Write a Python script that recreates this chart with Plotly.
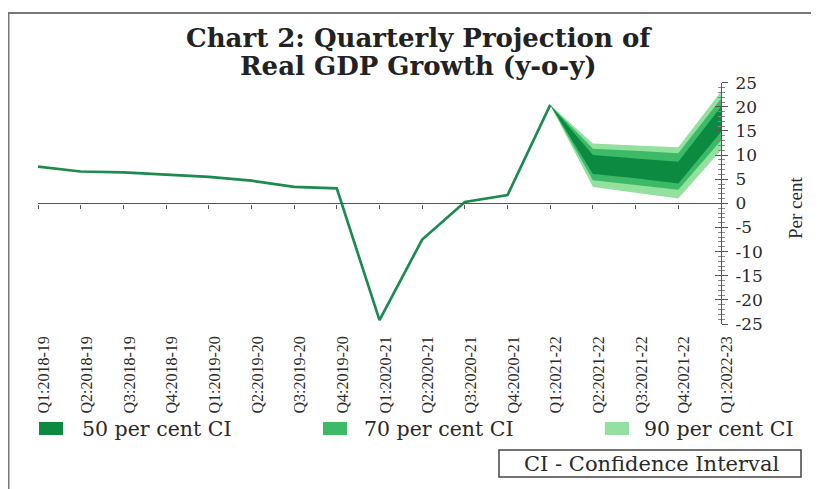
import plotly.graph_objects as go

# ---------------- data ----------------
quarters = ["Q1:2018-19", "Q2:2018-19", "Q3:2018-19", "Q4:2018-19",
            "Q1:2019-20", "Q2:2019-20", "Q3:2019-20", "Q4:2019-20",
            "Q1:2020-21", "Q2:2020-21", "Q3:2020-21", "Q4:2020-21",
            "Q1:2021-22", "Q2:2021-22", "Q3:2021-22", "Q4:2021-22",
            "Q1:2022-23"]
gdp_actual = [7.6, 6.6, 6.4, 6.0, 5.5, 4.7, 3.4, 3.1, -24.2, -7.5, 0.3, 1.7, 20.4]

fan_idx = [12, 13, 14, 15, 16]
upper90 = [20.4, 12.4, 12.0, 11.6, 23.2]
upper70 = [20.4, 11.3, 10.9, 10.4, 21.7]
upper50 = [20.4, 10.0, 9.3, 8.6, 20.0]
lower50 = [20.4, 6.1, 5.2, 4.1, 14.8]
lower70 = [20.4, 4.8, 3.8, 2.8, 13.0]
lower90 = [20.4, 3.4, 2.2, 1.0, 11.0]

y_ticks = [25, 20, 15, 10, 5, 0, -5, -10, -15, -20, -25]
y_tick_labels = ["25", "20", "15", "10", "5", "0", "-5", "-10", "-15", "-20", "-25"]
legend_labels = ["50 per cent CI", "70 per cent CI", "90 per cent CI"]
title_lines = ["Chart 2: Quarterly Projection of", "Real GDP Growth (y-o-y)"]

# ---------------- style ----------------
OFF = 8                      # page body margin offset
W, H = 819 - OFF, 489 - OFF
C50, C70, C90 = "#0c8a42", "#3dba68", "#93e09f"
LINE = "#1d8a50"
SERIF = "DejaVu Serif"
TXT = "#2a2a2a"

def px(x):
    return (x - OFF) / W

def py(y):
    return 1 - (y - OFF) / H

x_dom = [px(38), px(721)]
x_lab_dom = [px(44), px(727)]
y_dom = [py(324), py(82.7)]
yr = [-25, 25]
zero_pos = y_dom[0] + (y_dom[1] - y_dom[0]) * (0 - yr[0]) / (yr[1] - yr[0])

fig = go.Figure()

idx_all = list(range(len(quarters)))

def band(upper, lower, color, name):
    xs = fan_idx + fan_idx[::-1]
    ys = upper + lower[::-1]
    fig.add_trace(go.Scatter(x=xs, y=ys, fill="toself", fillcolor=color,
                             mode="lines", line=dict(width=0, color=color),
                             name=name, showlegend=False, hoverinfo="skip"))

band(upper90, lower90, C90, legend_labels[2])
band(upper70, lower70, C70, legend_labels[1])
band(upper50, lower50, C50, legend_labels[0])

fig.add_trace(go.Scatter(x=idx_all[:len(gdp_actual)], y=gdp_actual, mode="lines",
                         line=dict(color=LINE, width=2.7), showlegend=False))

fig.update_layout(
    width=W, height=H,
    margin=dict(l=0, r=0, t=0, b=0, pad=0, autoexpand=False),
    paper_bgcolor="white", plot_bgcolor="rgba(0,0,0,0)",
    xaxis=dict(domain=x_dom, range=[0, 16], showgrid=False, zeroline=False,
               showline=False, ticks="", showticklabels=False, automargin=False),
    # axis line at zero with tick marks
    xaxis2=dict(range=[0, 16], overlaying="x", anchor="free",
                position=zero_pos, showgrid=False, zeroline=False,
                showline=True, linecolor="#555", linewidth=1.3,
                ticks="outside", ticklen=4, tickcolor="#555", tickwidth=1.3,
                tickvals=idx_all, showticklabels=False, automargin=False),
    yaxis=dict(domain=y_dom, range=yr, side="right", anchor="x",
               showgrid=False, zeroline=False, showline=True,
               linecolor="#555", linewidth=1.3,
               tickmode="array", tickvals=y_ticks, ticktext=y_tick_labels,
               ticks="outside", ticklen=6, tickcolor="#555",
               tickwidth=1.3, ticklabelstandoff=4, automargin=False,
               minor=dict(dtick=1, ticks="outside", ticklen=3, tickcolor="#888",
                          tickwidth=0.8),
               tickfont=dict(family=SERIF, size=17, color=TXT)),
    yaxis2=dict(range=yr, side="right", overlaying="y", anchor="x",
                showgrid=False, zeroline=False, showline=False,
                tickvals=y_ticks, ticks="inside", ticklen=6, tickcolor="#555",
                tickwidth=1.3, showticklabels=False, automargin=False,
                minor=dict(dtick=1, ticks="inside", ticklen=3, tickcolor="#888",
                           tickwidth=0.8)),
    # separate subplot carrying the category labels (slightly offset, as in source)
    xaxis3=dict(domain=x_lab_dom, range=[0, 16], anchor="y3",
                side="bottom", showgrid=False, zeroline=False, showline=False,
                ticks="", tickmode="array", tickvals=idx_all, ticktext=quarters,
                tickangle=-90, ticklabelstandoff=8, automargin=False,
                tickfont=dict(family="Liberation Serif", size=16, color=TXT)),
    yaxis3=dict(domain=y_dom, range=yr, anchor="x3", showgrid=False,
                zeroline=False, showline=False, showticklabels=False, ticks="",
                automargin=False),
)

# dummy traces so the extra axes render
fig.add_trace(go.Scatter(x=[0], y=[0], xaxis="x2", yaxis="y2", mode="markers",
                         marker=dict(opacity=0), showlegend=False, hoverinfo="skip"))
fig.add_trace(go.Scatter(x=[0], y=[0], xaxis="x3", yaxis="y3", mode="markers",
                         marker=dict(opacity=0), showlegend=False, hoverinfo="skip"))

# frame
fig.add_shape(type="line", xref="paper", yref="paper", x0=px(5), x1=1.01,
              y0=py(13), y1=py(13), line=dict(color="#777", width=2))
fig.add_shape(type="line", xref="paper", yref="paper", x0=px(8.5), x1=px(8.5),
              y0=py(13), y1=-0.01, line=dict(color="#777", width=2))

# title (two lines)
for line_txt, yc in zip(title_lines, [38.5, 65.5]):
    fig.add_annotation(text="<b>" + line_txt + "</b>", xref="paper", yref="paper",
                       x=px(419), y=py(yc), showarrow=False, xanchor="center",
                       yanchor="middle", font=dict(family=SERIF, size=26, color="#222"))

# y axis title
fig.add_annotation(text="Per cent", xref="paper", yref="paper", x=px(795), y=py(208),
                   showarrow=False, textangle=-90, xanchor="center", yanchor="middle",
                   font=dict(family="Liberation Serif", size=19, color=TXT))

# legend
sq_x = [39, 323, 605]
txt_x = [80, 362, 642]
cols = [C50, C70, C90]
for sx, tx, c, lab in zip(sq_x, txt_x, cols, legend_labels):
    fig.add_shape(type="rect", xref="paper", yref="paper", x0=px(sx), x1=px(sx + 24),
                  y0=py(435), y1=py(422), fillcolor=c, line=dict(width=0))
    fig.add_annotation(text=lab, xref="paper", yref="paper", x=px(tx), y=py(428.5),
                       showarrow=False, xanchor="left", yanchor="middle",
                       font=dict(family=SERIF, size=20.5, color=TXT))

# CI box
fig.add_shape(type="rect", xref="paper", yref="paper", x0=px(499), x1=px(801),
              y0=py(477), y1=py(450), line=dict(color="#444", width=1.5),
              fillcolor="white")
fig.add_annotation(text="CI - Confidence Interval", xref="paper", yref="paper",
                   x=px(651), y=py(463.5), showarrow=False, xanchor="center",
                   yanchor="middle", font=dict(family=SERIF, size=21, color=TXT))

fig.write_html("out.html")
